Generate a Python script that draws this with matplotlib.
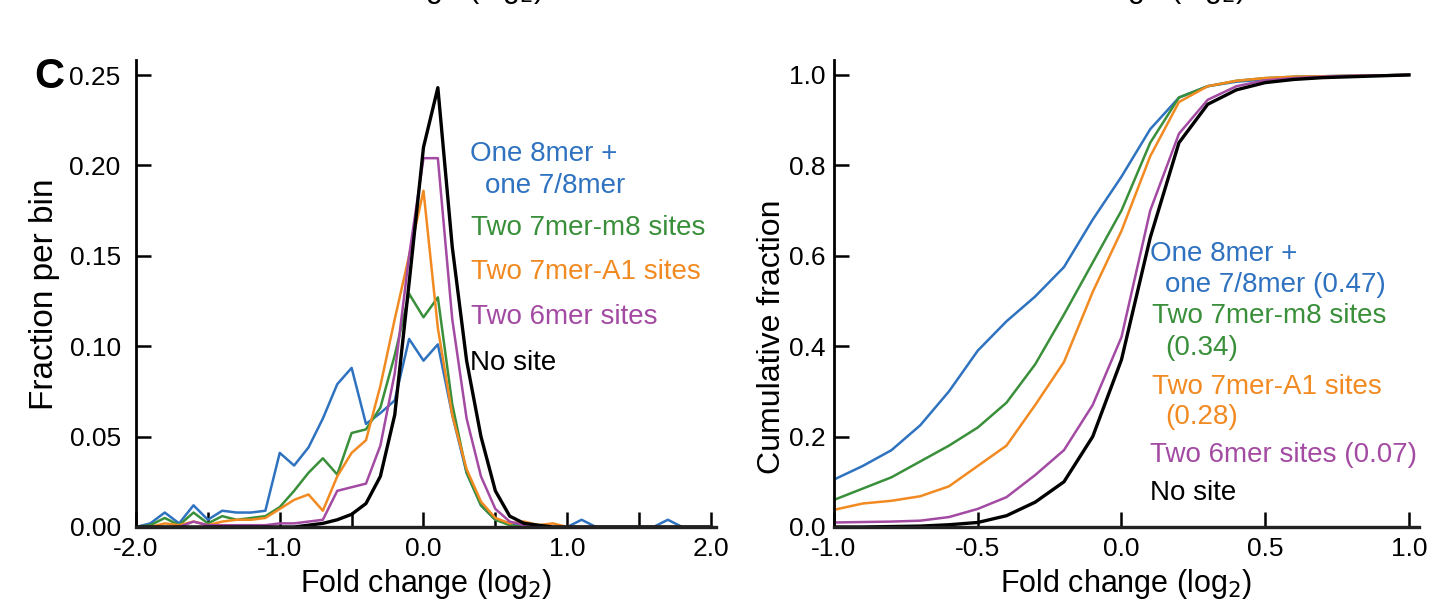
import numpy as np
import matplotlib
matplotlib.use('Agg')
import matplotlib.pyplot as plt
from matplotlib.ticker import FixedLocator, FormatStrFormatter

plt.rcParams['font.family'] = ['Liberation Sans', 'DejaVu Sans']

# ----------------------------------------------------------------------------
# data

hist_x = np.round(np.arange(-2.0, 2.01, 0.1), 1)

hist_one8 = [0.000, 0.002, 0.008, 0.002, 0.012, 0.004, 0.009, 0.008, 0.008, 0.009,
             0.041, 0.034, 0.044, 0.060, 0.079, 0.088, 0.057, 0.063, 0.070, 0.104,
             0.092, 0.101, 0.062, 0.030, 0.012, 0.004, 0.002, 0.000, 0.000, 0.000,
             0.000, 0.004, 0.000, 0.000, 0.000, 0.000, 0.000, 0.004, 0.000, 0.000, 0.000]
hist_m8 = [0.000, 0.001, 0.005, 0.001, 0.008, 0.002, 0.006, 0.004, 0.005, 0.006,
           0.011, 0.020, 0.030, 0.038, 0.029, 0.052, 0.054, 0.066, 0.095, 0.129,
           0.116, 0.127, 0.068, 0.030, 0.012, 0.004, 0.001, 0.000, 0.000, 0.000,
           0.000, 0.000, 0.000, 0.000, 0.000, 0.000, 0.000, 0.000, 0.000, 0.000, 0.000]
hist_a1 = [0.000, 0.000, 0.002, 0.001, 0.003, 0.001, 0.003, 0.004, 0.004, 0.005,
           0.010, 0.015, 0.018, 0.009, 0.028, 0.041, 0.048, 0.078, 0.115, 0.150,
           0.186, 0.110, 0.062, 0.032, 0.014, 0.005, 0.002, 0.003, 0.001, 0.002,
           0.000, 0.000, 0.000, 0.000, 0.000, 0.000, 0.000, 0.000, 0.000, 0.000, 0.000]
hist_6mer = [0.000, 0.000, 0.000, 0.000, 0.003, 0.001, 0.001, 0.001, 0.001, 0.001,
             0.002, 0.002, 0.003, 0.004, 0.020, 0.022, 0.024, 0.045, 0.085, 0.150,
             0.204, 0.204, 0.115, 0.060, 0.028, 0.010, 0.003, 0.001, 0.000, 0.000,
             0.000, 0.000, 0.000, 0.000, 0.000, 0.000, 0.000, 0.000, 0.000, 0.000, 0.000]
hist_nosite = [0.000, 0.000, 0.000, 0.000, 0.000, 0.000, 0.000, 0.000, 0.000, 0.000,
               0.000, 0.000, 0.001, 0.002, 0.004, 0.007, 0.013, 0.028, 0.062, 0.135,
               0.210, 0.243, 0.155, 0.092, 0.050, 0.020, 0.006, 0.002, 0.001, 0.000,
               0.000, 0.000, 0.000, 0.000, 0.000, 0.000, 0.000, 0.000, 0.000, 0.000, 0.000]

cdf_x = np.round(np.arange(-1.0, 1.01, 0.1), 1)

cdf_one8 = [0.105, 0.135, 0.170, 0.225, 0.300, 0.390, 0.455, 0.510, 0.575, 0.680,
            0.775, 0.880, 0.950, 0.975, 0.985, 0.990, 0.995, 0.997, 0.998, 0.999, 1.000]
cdf_m8 = [0.060, 0.085, 0.110, 0.145, 0.180, 0.220, 0.275, 0.360, 0.470, 0.585,
          0.700, 0.850, 0.950, 0.975, 0.987, 0.993, 0.996, 0.997, 0.998, 0.999, 1.000]
cdf_a1 = [0.038, 0.052, 0.058, 0.068, 0.090, 0.135, 0.180, 0.270, 0.365, 0.520,
          0.655, 0.820, 0.940, 0.975, 0.987, 0.993, 0.996, 0.997, 0.998, 0.999, 1.000]
cdf_6mer = [0.010, 0.011, 0.012, 0.014, 0.022, 0.040, 0.066, 0.115, 0.170, 0.270,
            0.420, 0.700, 0.870, 0.945, 0.975, 0.988, 0.993, 0.996, 0.998, 0.999, 1.000]
cdf_nosite = [0.000, 0.000, 0.001, 0.002, 0.005, 0.010, 0.025, 0.055, 0.100, 0.200,
              0.370, 0.640, 0.850, 0.935, 0.967, 0.983, 0.990, 0.994, 0.996, 0.998, 1.000]

# legend lines: (text, series index)
labels_left = [("One 8mer +", 0), ("one 7/8mer", 0), ("Two 7mer-m8 sites", 1),
               ("Two 7mer-A1 sites", 2), ("Two 6mer sites", 3), ("No site", 4)]
labels_right = [("One 8mer +", 0), ("one 7/8mer (0.47)", 0), ("Two 7mer-m8 sites", 1),
                ("(0.34)", 1), ("Two 7mer-A1 sites", 2), ("(0.28)", 2),
                ("Two 6mer sites (0.07)", 3), ("No site", 4)]

colors = ['#2e72c0', '#3a8f3a', '#f28a22', '#a34aa3', '#000000']
widths = [1.8, 1.8, 1.8, 1.8, 2.4]

# ----------------------------------------------------------------------------
# figure

W, H = 1433, 616
fig = plt.figure(figsize=(W / 100, H / 100), dpi=100)

def box(x0, y0, x1, y1):
   # pixel box (from top-left) -> figure fraction
   return [x0 / W, 1 - y1 / H, (x1 - x0) / W, (y1 - y0) / H]

def ftext(x, y, s, **kw):
   fig.text(x / W, 1 - y / H, s, **kw)

ax1 = fig.add_axes(box(136, 60, 716, 527))
ax2 = fig.add_axes(box(834, 60, 1419, 527))

for ys, c, lw in zip([hist_one8, hist_m8, hist_a1, hist_6mer, hist_nosite], colors, widths):
   ax1.plot(hist_x, ys, '-', c=c, lw=lw)
for ys, c, lw in zip([cdf_one8, cdf_m8, cdf_a1, cdf_6mer, cdf_nosite], colors, widths):
   ax2.plot(cdf_x, ys, '-', c=c, lw=lw)

ax1.set_xlim(-2.0, 2.035)
ax1.set_ylim(0, 0.2583)
ax2.set_xlim(-1.0, 1.035)
ax2.set_ylim(0, 1.033)

ax1.xaxis.set_major_locator(FixedLocator([-2, -1, 0, 1, 2]))
ax1.xaxis.set_minor_locator(FixedLocator([-1.5, -0.5, 0.5, 1.5]))
ax1.yaxis.set_major_locator(FixedLocator([0, 0.05, 0.10, 0.15, 0.20, 0.25]))
ax1.xaxis.set_major_formatter(FormatStrFormatter('%.1f'))
ax1.yaxis.set_major_formatter(FormatStrFormatter('%.2f'))

ax2.xaxis.set_major_locator(FixedLocator([-1, -0.5, 0, 0.5, 1]))
ax2.yaxis.set_major_locator(FixedLocator([0, 0.2, 0.4, 0.6, 0.8, 1.0]))
ax2.xaxis.set_major_formatter(FormatStrFormatter('%.1f'))
ax2.yaxis.set_major_formatter(FormatStrFormatter('%.1f'))

for ax, ypad in [(ax1, 11), (ax2, 6)]:
   for side in ['top', 'right']:
      ax.spines[side].set_visible(False)
   ax.spines['left'].set_linewidth(2.0)
   ax.spines['bottom'].set_linewidth(2.4)
   ax.spines['bottom'].set_color('#222222')
   ax.tick_params(which='both', direction='in', length=11, width=1.8, labelsize=19)
   ax.tick_params(axis='y', pad=ypad)
   ax.tick_params(axis='x', pad=7)
   ax.set_xlabel(r"Fold change (log$_2$)", fontsize=22)
   ax.xaxis.set_label_coords(0.5, -0.085)
   ax.xaxis.label.set_va('top')

ftext(45, 294, "Fraction per bin", fontsize=24, rotation=90, ha='center', va='center')
ftext(772, 337, "Cumulative fraction", fontsize=23, rotation=90, ha='center', va='center')

ftext(34, 77, "C", fontsize=30, fontweight='bold', ha='left', va='center')

# clipped axis labels of the row above (only descenders show)
ftext(418, -3, r"Fold change (log$_2$)", fontsize=22, ha='center', va='baseline')
ftext(1120, -3, r"Fold change (log$_2$)", fontsize=22, ha='center', va='baseline')

# in-plot legends, line by line
left_pos = [(470, 154), (485, 186), (471, 228), (471, 272), (471, 317), (470, 363)]
for (x, y), (s, k) in zip(left_pos, labels_left):
   ftext(x, y, s, fontsize=20, color=colors[k], ha='left', va='center')

right_pos = [(1150, 254), (1165, 285), (1152, 316), (1165, 348),
             (1152, 387), (1165, 417), (1150, 455), (1150, 493)]
for (x, y), (s, k) in zip(right_pos, labels_right):
   ftext(x, y, s, fontsize=20, color=colors[k], ha='left', va='center')

fig.savefig('out.png', dpi=100)
